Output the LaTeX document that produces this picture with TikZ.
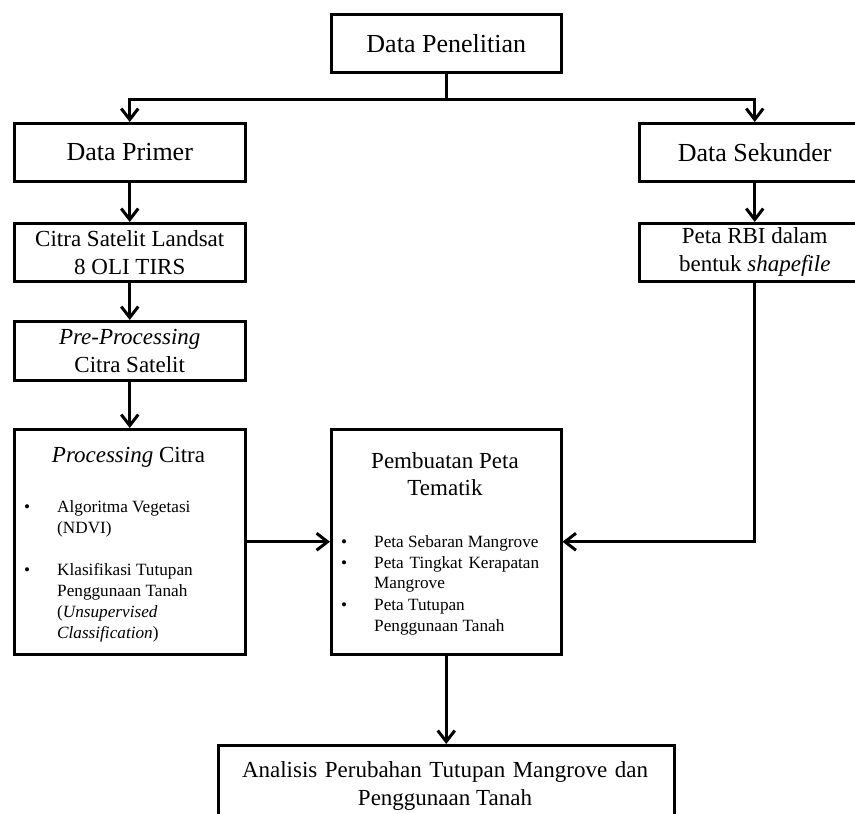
\documentclass[tikz,border=0pt]{standalone}
\usepackage{fontspec}
\setmainfont{Liberation Serif}
\usetikzlibrary{arrows.meta}
\tikzset{
  box/.style={draw, line width=2.5pt, rectangle, inner sep=0pt, anchor=north west, align=center},
  big/.style={font=\fontsize{26}{30}\selectfont},
  mid/.style={font=\fontsize{23}{28}\selectfont},
  sml/.style={font=\fontsize{17.2}{21}\selectfont, inner sep=0pt, anchor=base west},
  midline/.style={font=\fontsize{23}{28}\selectfont, inner sep=0pt, anchor=base},
  conn/.style={line width=3pt, -{Straight Barb[length=11pt,width=17pt,line width=3pt]}},
  link/.style={line width=3pt},
}
\begin{document}
\begin{tikzpicture}[x=1pt,y={(0pt,-1pt)}]
\useasboundingbox (0,0) rectangle (855,814);
\clip (0,0) rectangle (855,814);
\fill[white] (0,0) rectangle (855,814);

% boxes
\node[box, big, minimum width=230pt, minimum height=58pt] (dp) at (330,13) {Data Penelitian};
\node[box, big, minimum width=231pt, minimum height=58pt] (prim) at (13,122) {Data Primer};
\node[box, big, minimum width=231pt, minimum height=58pt] (sek) at (638,122) {Data Sekunder};
\node[box, mid, minimum width=231pt, minimum height=58pt] (citra) at (13,222) {Citra Satelit Landsat\\8 OLI TIRS};
\node[box, mid, minimum width=231pt, minimum height=58pt] (rbi) at (638,222) {Peta RBI dalam\\bentuk \textit{shapefile}};
\node[box, mid, minimum width=231pt, minimum height=59pt] (pre) at (13,320) {\textit{Pre-Processing}\\Citra Satelit};
\node[box, minimum width=231pt, minimum height=225pt] (proc) at (13,428) {};
\node[box, minimum width=230pt, minimum height=225pt] (pemb) at (330,428) {};
\node[box, minimum width=456pt, minimum height=90pt] (anal) at (217,744) {};

% Processing Citra content
\node[midline] (proct) at (128.5,462) {\textit{Processing} Citra};
\node[sml] (pb1) at (24,512) {•};
\node[sml] (pl1) at (57,512) {Algoritma Vegetasi};
\node[sml] (pl2) at (57,533) {(NDVI)};
\node[sml] (pb2) at (24,575) {•};
\node[sml] (pl3) at (57,575) {Klasifikasi Tutupan};
\node[sml] (pl4) at (57,596) {Penggunaan Tanah};
\node[sml] (pl5) at (57,617) {(\textit{Unsupervised}};
\node[sml] (pl6) at (57,638) {\textit{Classification})};

% Pembuatan Peta content
\node[midline] (pt1) at (445,468) {Pembuatan Peta};
\node[midline] (pt2) at (445,495) {Tematik};
\node[sml] (qb1) at (341,547) {•};
\node[sml] (ql1) at (374,547) {Peta Sebaran Mangrove};
\node[sml] (qb2) at (341,568) {•};
\node[sml] (ql2) at (374,568) {\makebox[165pt][s]{Peta Tingkat Kerapatan}};
\node[sml] (ql3) at (374,588) {Mangrove};
\node[sml] (qb3) at (341,610) {•};
\node[sml] (ql4) at (374,610) {Peta Tutupan};
\node[sml] (ql5) at (374,631) {Penggunaan Tanah};

% Analisis content
\node[midline] (al1) at (445,777) {\makebox[406pt][s]{Analisis Perubahan Tutupan Mangrove dan}};
\node[midline] (al2) at (445,805) {Penggunaan Tanah};

% connectors
\draw[link] (dp.south) -- ++(0,26) coordinate (j);
\draw[conn] (j) -| (prim.north);
\draw[conn] (j) -| (sek.north);
\draw[conn] (prim.south) -- (citra.north);
\draw[conn] (citra.south) -- (pre.north);
\draw[conn] (pre.south) -- (proc.north);
\draw[conn] (sek.south) -- (rbi.north);
\draw[conn] (rbi.south) |- (pemb.east);
\draw[conn] (proc.east) -- (pemb.west);
\draw[conn] (pemb.south) -- (anal.north);
\end{tikzpicture}
\end{document}
